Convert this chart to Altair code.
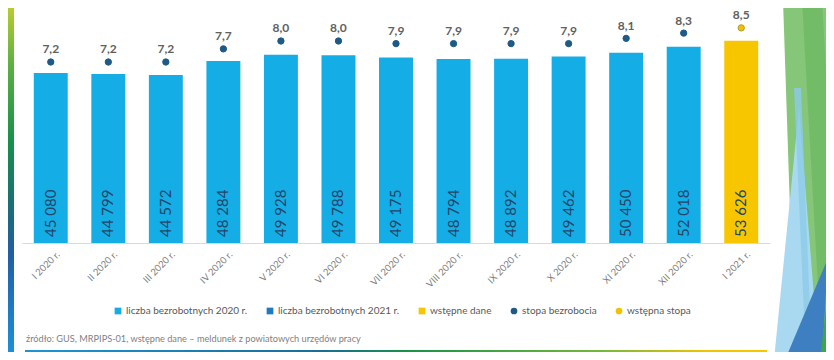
import altair as alt
import pandas as pd

months = ["I 2020 r.", "II 2020 r.", "III 2020 r.", "IV 2020 r.", "V 2020 r.", "VI 2020 r.",
          "VII 2020 r.", "VIII 2020 r.", "IX 2020 r.", "X 2020 r.", "XI 2020 r.", "XII 2020 r.",
          "I 2021 r."]
unemployed = [45080, 44799, 44572, 48284, 49928, 49788, 49175, 48794, 48892, 49462, 50450, 52018, 53626]
rates = [7.2, 7.2, 7.2, 7.7, 8.0, 8.0, 7.9, 7.9, 7.9, 7.9, 8.1, 8.3, 8.5]
bar_series = ["liczba bezrobotnych 2020 r."] * 12 + ["wstępne dane"]
rate_series = ["stopa bezrobocia"] * 12 + ["wstępna stopa"]
legend_labels = ["liczba bezrobotnych 2020 r.", "liczba bezrobotnych 2021 r.", "wstępne dane",
                 "stopa bezrobocia", "wstępna stopa"]
legend_colors = ["#14ade6", "#1f7bbf", "#f7c600", "#1d5a87", "#f2c200"]
legend_shapes = ["square", "square", "square", "circle", "circle"]
source_text = "źródło: GUS, MRPIPS-01, wstępne dane – meldunek z powiatowych urzędów pracy"

df = pd.DataFrame({
    "month": months,
    "count": unemployed,
    "rate": rates,
    "series": bar_series,
    "rate_series": rate_series,
})

FONT = "Lato"

color_scale = alt.Scale(domain=legend_labels, range=legend_colors)
shape_scale = alt.Scale(domain=legend_labels, range=legend_shapes)
legend = alt.Legend(title=None, orient="none", legendX=91, legendY=298, direction="horizontal",
                    labelFont=FONT, labelFontSize=10, labelColor="#595959", symbolSize=45,
                    columnPadding=17, labelOffset=3, padding=0, symbolStrokeWidth=0)

X = alt.X("month:N", sort=months, title=None,
          scale=alt.Scale(paddingInner=0.41, paddingOuter=0.205),
          axis=alt.Axis(labelAngle=-45, labelFont=FONT, labelFontSize=9.5, labelColor="#7f7f7f",
                        ticks=False, domainColor="#d9d9d9", domainWidth=1, labelPadding=6,
                        labelOffset=4, grid=False))

count_scale = alt.Scale(domain=[0, 62320], nice=False, zero=True)
rate_scale = alt.Scale(domain=[0.305, 9.257], nice=False, zero=False)

base = alt.Chart(df)

bars = base.mark_bar().encode(
    x=X,
    y=alt.Y("count:Q", scale=count_scale, axis=None),
    color=alt.Color("series:N", scale=color_scale, legend=legend),
)

bar_labels = base.transform_calculate(
    lbl="replace(format(datum.count, ','), ',', ' ')"
).mark_text(angle=270, align="left", baseline="middle", dx=6, font=FONT, fontSize=15,
            color="#23466a").encode(
    x=X,
    y=alt.YDatum(0, scale=count_scale, axis=None),
    text="lbl:N",
)

points = base.mark_point(filled=True, size=40, opacity=1, strokeWidth=1).encode(
    x=X,
    y=alt.Y("rate:Q", scale=rate_scale, axis=None),
    color=alt.Color("rate_series:N", scale=color_scale, legend=legend),
    shape=alt.Shape("rate_series:N", scale=shape_scale, legend=legend),
    stroke=alt.condition("datum.rate_series == 'wstępna stopa'", alt.value("#b09a2a"), alt.value("#1d5a87")),
)

rate_labels = base.transform_calculate(
    lbl="replace(format(datum.rate, '.1f'), '.', ',')"
).mark_text(dy=-8.5, baseline="alphabetic", fontWeight="bold", fontSize=12, font=FONT,
            color="#606060").encode(
    x=X,
    y=alt.Y("rate:Q", scale=rate_scale, axis=None),
    text="lbl:N",
)

one = alt.Chart(pd.DataFrame({"a": [0]}))

left_strip = one.mark_rect(color=alt.Gradient(
    gradient="linear", x1=0, x2=0, y1=0, y2=1,
    stops=[alt.GradientStop(color="#c5cf2e", offset=0),
           alt.GradientStop(color="#5fb043", offset=0.18),
           alt.GradientStop(color="#17914a", offset=0.4),
           alt.GradientStop(color="#1b6e74", offset=0.58),
           alt.GradientStop(color="#225ea3", offset=0.72),
           alt.GradientStop(color="#1c8fd8", offset=1)])).encode(
    x=alt.value(-14), x2=alt.value(-8), y=alt.value(-8), y2=alt.value(344))

bottom_line = one.mark_rect(color=alt.Gradient(
    gradient="linear", x1=0, x2=1, y1=0, y2=0,
    stops=[alt.GradientStop(color="#1c95d5", offset=0),
           alt.GradientStop(color="#176f96", offset=0.4),
           alt.GradientStop(color="#189447", offset=0.52),
           alt.GradientStop(color="#78b83a", offset=0.78),
           alt.GradientStop(color="#f0c400", offset=0.92),
           alt.GradientStop(color="#f5c800", offset=1)])).encode(
    x=alt.value(3), x2=alt.value(745), y=alt.value(342), y2=alt.value(345))

def deco(path, color, opacity=1.0):
    return one.mark_point(filled=True, shape=path, size=4, fill=color, opacity=opacity,
                          strokeWidth=0).encode(x=alt.value(0), y=alt.value(0))

# decorative triangles on the right (coordinates relative to plot origin)
deco_green = deco("M761,-8L812,-8L812,352L773,352Z", "#86c679")
deco_green2 = deco("M780,-8L800,-8L812,200L812,352L800,352Z", "#6bb85f", 0.7)
deco_lblue = deco("M777,100L797,352L752,352Z", "#a9d9f1")
deco_lblue2 = deco("M772,80L779,80L790,352L784,352Z", "#8ccbe9", 0.8)
deco_dblue = deco("M806,250L800,352L763,352Z", "#3d7fc1")
deco_green3 = deco("M812,230L812,352L798,352Z", "#3fa54a")

source = one.mark_text(align="left", baseline="middle", font=FONT, fontSize=9.2,
                       color="#7f7f7f").encode(
    x=alt.value(4), y=alt.value(331), text=alt.value(source_text))

main = alt.layer(
    alt.layer(bars, bar_labels),
    alt.layer(points, rate_labels),
).resolve_scale(y="independent")

chart = alt.layer(
    deco_green, deco_green2, deco_lblue, deco_lblue2, deco_dblue, deco_green3,
    left_strip, bottom_line, source, main,
).properties(
    width=748, height=235,
    padding={"left": 14, "top": 0, "right": 56, "bottom": 109},
    autosize=alt.AutoSizeParams(type="none"),
    background="white",
).configure_view(stroke=None)

chart.save("out.html", embed_options={"renderer": "svg", "actions": False})
